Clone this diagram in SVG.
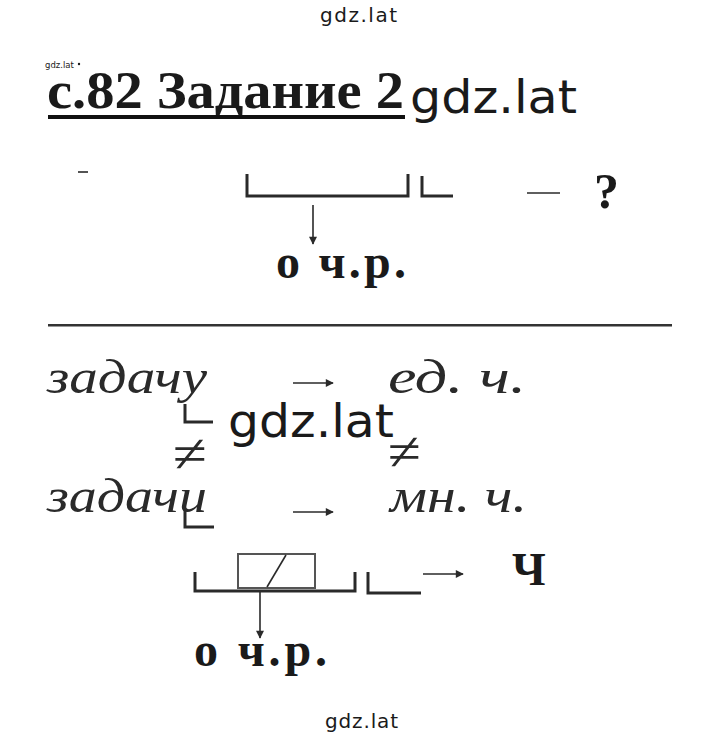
<svg xmlns="http://www.w3.org/2000/svg" width="720" height="743" viewBox="0 0 720 743">
<style>
.wm{font-family:"DejaVu Sans","Noto Sans",sans-serif;fill:#1a1a1a}
.b{font-family:"Liberation Serif","Times New Roman",serif;font-weight:bold;fill:#1a1a1a}
.it{font-family:"Liberation Serif","Times New Roman",serif;font-style:italic;fill:#2a2a2a}
.ne{font-family:"Liberation Serif","Times New Roman",serif;fill:#2a2a2a}
.ln{stroke:#2a2a2a;stroke-width:3;fill:none}
.th{stroke:#2a2a2a;stroke-width:1.6;fill:none}
</style>
<defs>
<marker id="ah2" viewBox="0 0 10 10" refX="9" refY="5" markerWidth="9" markerHeight="8" markerUnits="userSpaceOnUse" orient="auto">
<path d="M0,0L10,5L0,10z" fill="#2a2a2a"/>
</marker>
</defs>
<rect width="720" height="743" fill="#fff"/>
<text class="wm" x="320" y="22" font-size="20" textLength="77">gdz.lat</text>
<g id="title">
<text class="wm" x="45" y="68" font-size="8.5">gdz.lat</text>
<circle cx="79" cy="64" r="1.2" fill="#1a1a1a"/>
<text class="b" x="47" y="108" font-size="52" textLength="357" lengthAdjust="spacingAndGlyphs">с.82 Задание 2</text>
<rect x="48" y="115" width="357" height="4" fill="#111"/>
<text class="wm" x="410" y="113" font-size="46" textLength="167" lengthAdjust="spacingAndGlyphs">gdz.lat</text>
</g>
<g id="scheme1">
<path class="th" d="M78,172H88" stroke-width="2"/>
<path class="ln" d="M247,174V196H408V174"/>
<path class="ln" d="M422,176V196H453"/>
<path class="th" d="M527,193H560" stroke-width="2"/>
<text class="b" x="594" y="208" font-size="50">?</text>
<text class="b" x="276" y="278" font-size="48" textLength="130" lengthAdjust="spacing">о ч.р.</text>
</g>
<rect x="48" y="324" width="624" height="2.5" fill="#333"/>
<g id="words">
<text class="it" x="47" y="393" font-size="48" textLength="160" lengthAdjust="spacingAndGlyphs">задачу</text>
<text class="it" x="388" y="393" font-size="48" textLength="138" lengthAdjust="spacingAndGlyphs">ед. ч.</text>
<path class="ln" d="M185,404V422H213"/>
<text class="wm" x="228" y="437" font-size="46" textLength="166" lengthAdjust="spacingAndGlyphs">gdz.lat</text>
<text class="ne" x="173" y="472" font-size="54" textLength="34" lengthAdjust="spacingAndGlyphs">≠</text>
<text class="ne" x="388" y="470" font-size="54" textLength="33" lengthAdjust="spacingAndGlyphs">≠</text>
<text class="it" x="47" y="512" font-size="48" textLength="160" lengthAdjust="spacingAndGlyphs">задачи</text>
<path class="ln" d="M185,510V527H214"/>
<text class="it" x="390" y="512" font-size="48" textLength="137" lengthAdjust="spacingAndGlyphs">мн. ч.</text>
</g>
<g id="scheme2">
<rect x="238" y="554" width="77" height="34" fill="none" stroke="#555" stroke-width="2"/>
<path class="th" d="M267,587L286,555" stroke="#444"/>
<path class="ln" d="M195,572V591H355V572"/>
<path class="ln" d="M368,572V593H421"/>
<text class="b" x="512" y="585" font-size="46">Ч</text>
<text class="b" x="194" y="666" font-size="48" textLength="133" lengthAdjust="spacing">о ч.р.</text>
</g>
<g id="connectors">
<line class="th" x1="313" y1="205" x2="313" y2="244" marker-end="url(#ah2)"/>
<line class="th" x1="293" y1="383" x2="333" y2="383" marker-end="url(#ah2)"/>
<line class="th" x1="293" y1="512" x2="333" y2="512" marker-end="url(#ah2)"/>
<line class="th" x1="423" y1="574" x2="463" y2="574" marker-end="url(#ah2)"/>
<line class="th" x1="260" y1="592" x2="260" y2="638" marker-end="url(#ah2)"/>
</g>
<text class="wm" x="325" y="728" font-size="20" textLength="73">gdz.lat</text>
</svg>
